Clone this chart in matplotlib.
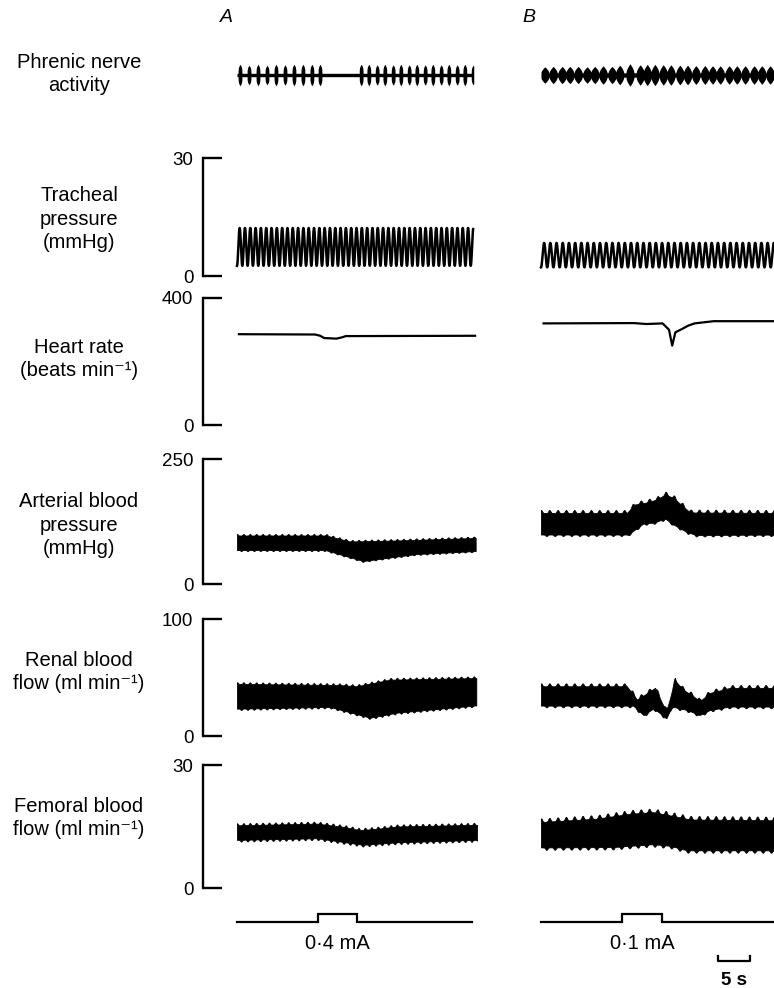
import numpy as np
import matplotlib
matplotlib.use("Agg")
import matplotlib.pyplot as plt

plt.rcParams['font.family'] = ['Liberation Sans', 'DejaVu Sans']

# ======================= DATA =======================
panel_letters = ["A", "B"]
row_labels = ["Phrenic nerve\nactivity",
              "Tracheal\npressure\n(mmHg)",
              "Heart rate\n(beats min\u207b\u00b9)",
              "Arterial blood\npressure\n(mmHg)",
              "Renal blood\nflow (ml min\u207b\u00b9)",
              "Femoral blood\nflow (ml min\u207b\u00b9)"]
scale_tops = [30, 400, 250, 100, 30]          # tracheal, HR, BP, renal, femoral
stim_labels = ["0\u00b74 mA", "0\u00b71 mA"]
time_bar_label = "5 s"
time_bar_seconds = 5

# --- phrenic nerve bursts (s from trace start, relative amplitude) ---
phr_A_t = [0.47, 1.88, 3.28, 4.69, 6.09, 7.5, 8.9, 10.3, 11.7, 12.97,
           19.4, 20.6, 21.9, 23.1, 24.4, 25.6, 26.9, 28.1, 29.4, 30.6,
           31.9, 33.1, 34.4, 35.6, 36.9]
phr_A_amp = [0.45, 0.4, 0.45, 0.4, 0.45, 0.42, 0.45, 0.45, 0.45, 0.45,
             0.45, 0.45, 0.42, 0.45, 0.42, 0.45, 0.42, 0.45, 0.42, 0.45,
             0.42, 0.45, 0.42, 0.45, 0.4]
phr_A_dur = 37.0
phr_B_t = [0.6, 1.9, 3.3, 4.5, 5.8, 7.2, 8.4, 9.7, 11.1, 12.3, 13.9, 15.5,
           16.6, 17.8, 19.1, 20.3, 21.7, 22.9, 24.2, 25.6, 26.8, 28.0, 29.4,
           30.6, 31.9, 33.3, 34.5, 35.8]
phr_B_amp = [0.3, 0.32, 0.32, 0.32, 0.32, 0.3, 0.32, 0.35, 0.32, 0.38, 0.45,
             0.4, 0.42, 0.42, 0.4, 0.4, 0.38, 0.38, 0.36, 0.36, 0.35, 0.35,
             0.35, 0.35, 0.35, 0.35, 0.35, 0.35]
phr_B_dur = 37.0

# --- tracheal pressure (mmHg): envelope + ventilation period ---
trach_A_t = [0.0, 36.9]
trach_A_top = [12.2, 12.2]
trach_A_bot = [2.6, 2.6]
trach_A_period = 0.83
trach_B_t = [0.0, 37.0]
trach_B_top = [8.4, 8.4]
trach_B_bot = [2.2, 2.2]
trach_B_period = 0.97

# --- heart rate (beats/min) ---
hr_A_t = [0.3, 12.2, 13.0, 13.6, 15.5, 16.4, 17.0, 37.2]
hr_A = [286, 285, 281, 274, 272, 276, 280, 281]
hr_B_t = [0.4, 14.5, 16.5, 19.0, 20.0, 20.5, 21.0, 22.0, 23.0, 24.0, 27.0, 37.0]
hr_B = [320, 321, 318, 320, 300, 250, 292, 302, 313, 320, 327, 327]

# --- arterial blood pressure (mmHg): upper / lower envelopes ---
bp_A_top_t = [0.0, 13.9, 17.7, 25.0, 37.3]
bp_A_top = [100, 100, 88, 90, 95]
bp_A_bot_t = [0.0, 13.8, 19.7, 28.0, 37.3]
bp_A_bot = [66, 66, 44, 58, 64]
bp_B_top_t = [0.0, 13.4, 14.7, 16.5, 18.1, 19.4, 20.7, 22.2, 23.3, 37.0]
bp_B_top = [148, 148, 165, 169, 175, 185, 178, 161, 149, 148]
bp_B_bot_t = [0.0, 13.6, 15.0, 16.0, 17.6, 19.4, 20.7, 22.8, 24.3, 37.0]
bp_B_bot = [96, 96, 109, 118, 120, 128, 116, 101, 95, 96]

# --- renal blood flow (ml/min) ---
rbf_A_top_t = [0.3, 16.1, 18.7, 23.9, 37.4]
rbf_A_top = [46, 45, 44, 49.6, 51]
rbf_A_bot_t = [0.3, 14.5, 20.8, 25.0, 37.4]
rbf_A_bot = [22.2, 23.7, 14.5, 18.8, 25.0]
rbf_B_top_t = [0.0, 13.4, 15.0, 16.25, 17.8, 18.9, 19.6, 20.9, 22.2, 23.8,
               24.8, 26.4, 29.5, 37.0]
rbf_B_top = [45, 45, 33.6, 37.9, 43.6, 30.8, 23.6, 50.1, 42.1, 36.5, 32.2,
             39.3, 43.6, 43.6]
rbf_B_bot_t = [0.0, 14.4, 16.0, 17.6, 19.6, 20.4, 22.8, 24.8, 26.4, 29.5, 37.0]
rbf_B_bot = [24.5, 24.5, 16.5, 22.2, 13.7, 23.7, 20.8, 16.5, 20.8, 23.7, 23.7]

# --- femoral blood flow (ml/min) ---
fbf_A_top_t = [0.3, 12.5, 16.6, 19.2, 22.3, 25.0, 37.5]
fbf_A_top = [15.8, 16.2, 15.4, 14.6, 15.0, 15.5, 15.9]
fbf_A_bot_t = [0.3, 12.5, 16.1, 19.7, 25.0, 37.5]
fbf_A_bot = [11.3, 11.7, 10.9, 10.1, 10.7, 11.3]
fbf_B_top_t = [0.1, 8.7, 13.9, 17.5, 20.2, 23.3, 37.0]
fbf_B_top = [17.0, 17.8, 19.0, 19.4, 18.6, 17.6, 17.4]
fbf_B_bot_t = [0.1, 11.3, 17.5, 20.2, 22.8, 37.0]
fbf_B_bot = [9.3, 9.4, 10.1, 9.7, 8.6, 8.6]

# --- stimulus marker (s) ---
stim_A_on, stim_A_off, stim_A_dur = 12.7, 18.75, 36.7
stim_B_on, stim_B_off, stim_B_dur = 12.65, 18.9, 37.0

# ======================= LAYOUT / STYLE =======================
W, H = 774, 988
PX_PER_S = 6.4
A_X0, A_X1, A_T0 = 203, 480, 237
B_X0, B_X1, B_T0 = 535, 774, 541
LABEL_X = 79
FS_LABEL = 14.5
FS_TICK = 13.5
LW_AXIS = 1.7

fig = plt.figure(figsize=(W / 100, H / 100), dpi=100)


def add_ax(x0, x1, t0, y0, y1):
    ax = fig.add_axes([x0 / W, 1 - y1 / H, (x1 - x0) / W, (y1 - y0) / H])
    ax.patch.set_visible(False)
    for s in ax.spines.values():
        s.set_visible(False)
    ax.set_xticks([])
    ax.set_yticks([])
    ax.set_xlim((x0 - t0) / PX_PER_S, (x1 - t0) / PX_PER_S)
    return ax


def row_axes(y0, y1):
    return (add_ax(A_X0, A_X1, A_T0, y0, y1), add_ax(B_X0, B_X1, B_T0, y0, y1))


def scale_axis(ax, top):
    ax.set_ylim(0, top)
    ax.spines['left'].set_visible(True)
    ax.spines['left'].set_linewidth(LW_AXIS)
    ax.yaxis.set_ticks_position('left')
    ax.set_yticks([0, top])
    ax.set_yticklabels(["0", str(top)])
    ax.tick_params(axis='y', direction='in', length=13.5, width=LW_AXIS,
                   labelsize=FS_TICK, pad=7)


def band(ax, ut, up, lt, lo, period, r_up, r_lo, dur):
    t = np.arange(0, dur, 0.01)
    u = np.interp(t, ut, up)
    l = np.interp(t, lt, lo)
    s = ((1 + np.cos(2 * np.pi * t / period)) / 2) ** 3
    s2 = ((1 + np.cos(2 * np.pi * (t + period * 0.35) / period)) / 2) ** 3
    ax.fill_between(t, l + r_lo * (1 - s2), u - r_up * (1 - s), color='k', lw=0.6)


def vent(ax, kt, top, bot, period, dur, lw):
    t = np.arange(0, dur, 0.01)
    u = np.interp(t, kt, top)
    l = np.interp(t, kt, bot)
    y = (u + l) / 2 - (u - l) / 2 * np.cos(2 * np.pi * t / period)
    ax.plot(t, y, color='k', lw=lw, solid_joinstyle='round')


def phrenic(ax, centers, amps, width, power, base_half, dur):
    t = np.arange(0, dur, 0.005)
    env = np.zeros_like(t)
    for c, a in zip(centers, amps):
        e = a * np.clip(1 - np.abs(t - c) / width, 0, None) ** power
        env = np.maximum(env, e)
    ax.fill_between(t, -env - base_half, env + base_half, color='k', lw=0)


# ---- phrenic row ----
pA, pB = row_axes(55, 95)
for ax in (pA, pB):
    ax.set_ylim(-1, 1)
phrenic(pA, phr_A_t, phr_A_amp, 0.3, 0.3, 0.085, phr_A_dur)
phrenic(pB, phr_B_t, phr_B_amp, 0.62, 0.6, 0.11, phr_B_dur)

# ---- tracheal ----
tA, tB = row_axes(158, 276)
scale_axis(tA, scale_tops[0])
tB.set_ylim(0, scale_tops[0])
vent(tA, trach_A_t, trach_A_top, trach_A_bot, trach_A_period, trach_A_t[-1], 1.8)
vent(tB, trach_B_t, trach_B_top, trach_B_bot, trach_B_period, trach_B_t[-1], 1.8)

# ---- heart rate ----
hA, hB = row_axes(298, 425)
scale_axis(hA, scale_tops[1])
hB.set_ylim(0, scale_tops[1])
hA.plot(hr_A_t, hr_A, color='k', lw=1.6)
hB.plot(hr_B_t, hr_B, color='k', lw=1.6)

# ---- arterial blood pressure ----
bA, bB = row_axes(459, 584)
scale_axis(bA, scale_tops[2])
bB.set_ylim(0, scale_tops[2])
band(bA, bp_A_top_t, bp_A_top, bp_A_bot_t, bp_A_bot, 1.0, 3, 2, 37.3)
band(bB, bp_B_top_t, bp_B_top, bp_B_bot_t, bp_B_bot, 1.3, 6, 3, 37.0)

# ---- renal blood flow ----
rA, rB = row_axes(619, 736)
scale_axis(rA, scale_tops[3])
rB.set_ylim(0, scale_tops[3])
band(rA, rbf_A_top_t, rbf_A_top, rbf_A_bot_t, rbf_A_bot, 1.0, 1.5, 1.2, 37.4)
band(rB, rbf_B_top_t, rbf_B_top, rbf_B_bot_t, rbf_B_bot, 1.3, 2.5, 1.5, 37.0)

# ---- femoral blood flow ----
fA, fB = row_axes(765, 888)
scale_axis(fA, scale_tops[4])
fB.set_ylim(0, scale_tops[4])
band(fA, fbf_A_top_t, fbf_A_top, fbf_A_bot_t, fbf_A_bot, 1.0, 0.5, 0.45, 37.5)
band(fB, fbf_B_top_t, fbf_B_top, fbf_B_bot_t, fbf_B_bot, 1.3, 0.9, 0.6, 37.0)

# ---- stimulus row ----
sA, sB = row_axes(906, 988)
for ax, on, off, dur, lab in ((sA, stim_A_on, stim_A_off, stim_A_dur, stim_labels[0]),
                              (sB, stim_B_on, stim_B_off, stim_B_dur, stim_labels[1])):
    ax.set_ylim(-8.25, 2)
    ax.plot([0, on, on, off, off, dur], [0, 0, 1, 1, 0, 0], color='k', lw=1.6,
            solid_joinstyle='miter')
    ax.text((on + off) / 2, -2.65, lab, ha='center', va='center', fontsize=14.5)

# 5 s time bar
bar_t0 = (718 - B_T0) / PX_PER_S
sB.plot([bar_t0, bar_t0, bar_t0 + time_bar_seconds, bar_t0 + time_bar_seconds],
        [-4.2, -4.875, -4.875, -4.2], color='k', lw=1.6, clip_on=False)
sB.text(bar_t0 + time_bar_seconds / 2, -7.3, time_bar_label, ha='center',
        va='center', fontsize=13.5, fontweight='bold')

# ---- labels ----
label_y = [74, 219, 359, 525, 672, 818]
for lab, yy in zip(row_labels, label_y):
    fig.text(LABEL_X / W, 1 - yy / H, lab, ha='center', va='center',
             fontsize=FS_LABEL, linespacing=1.3)

for letter, xx in zip(panel_letters, (226, 529)):
    fig.text(xx / W, 1 - 17 / H, letter, ha='center', va='center',
             fontsize=14, fontstyle='italic')

fig.savefig("out.png", dpi=100)
